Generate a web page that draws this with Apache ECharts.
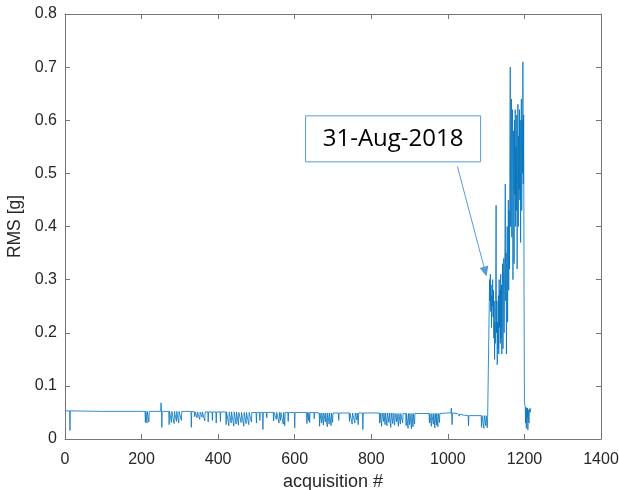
<!DOCTYPE html>
<html>
<head>
<meta charset="utf-8">
<script src="https://cdn.jsdelivr.net/npm/echarts@6/dist/echarts.min.js"></script>
<style>
  html, body { margin: 0; padding: 0; background: #fff; }
  #chart { width: 619px; height: 490px; }
</style>
</head>
<body>
<div id="chart"></div>
<script>
// baseline level anchors: [acquisition #, RMS g]
const baseLevel = [
  [0, 0.053], [100, 0.052], [200, 0.052], [400, 0.051], [600, 0.050],
  [800, 0.049], [1000, 0.049], [1025, 0.048], [1040, 0.045], [1108, 0.044]
];

// drop-outs (and two small spikes): [acquisition #, level around it, value]
const dips = [
  [13, 0.053, 0.016],
  [210, 0.052, 0.031], [214, 0.052, 0.030], [219, 0.052, 0.032],
  [251, 0.052, 0.068], [253, 0.052, 0.022],
  [272, 0.052, 0.027], [278, 0.052, 0.031], [285, 0.052, 0.029], [291, 0.052, 0.033],
  [297, 0.052, 0.030], [304, 0.052, 0.035], [330, 0.052, 0.022], [339, 0.051, 0.042],
  [345, 0.051, 0.040], [352, 0.051, 0.037], [358, 0.051, 0.041], [365, 0.051, 0.034],
  [374, 0.051, 0.032], [385, 0.051, 0.035], [395, 0.051, 0.030], [406, 0.051, 0.033],
  [421, 0.051, 0.027], [428, 0.051, 0.025], [434, 0.051, 0.030], [441, 0.051, 0.024],
  [447, 0.051, 0.028], [453, 0.050, 0.026], [460, 0.050, 0.031], [467, 0.050, 0.024],
  [473, 0.050, 0.029], [480, 0.050, 0.027], [487, 0.050, 0.032], [500, 0.050, 0.030],
  [509, 0.050, 0.035], [517, 0.050, 0.018], [527, 0.050, 0.040], [545, 0.050, 0.034],
  [552, 0.050, 0.037], [559, 0.050, 0.030], [563, 0.050, 0.035], [570, 0.050, 0.028],
  [574, 0.050, 0.025], [583, 0.050, 0.033], [600, 0.050, 0.021], [632, 0.050, 0.029],
  [636, 0.050, 0.035], [639, 0.050, 0.031], [651, 0.050, 0.038], [665, 0.049, 0.024],
  [670, 0.049, 0.030], [675, 0.049, 0.026], [680, 0.049, 0.032], [685, 0.049, 0.023],
  [690, 0.049, 0.028], [695, 0.049, 0.025], [699, 0.049, 0.031], [715, 0.049, 0.035],
  [743, 0.049, 0.033], [750, 0.049, 0.028], [757, 0.049, 0.030], [762, 0.049, 0.036],
  [766, 0.049, 0.027], [778, 0.049, 0.018], [822, 0.049, 0.030], [827, 0.049, 0.024],
  [832, 0.049, 0.033], [836, 0.049, 0.027], [841, 0.049, 0.025], [846, 0.049, 0.031],
  [851, 0.049, 0.022], [856, 0.049, 0.029], [861, 0.048, 0.026], [866, 0.048, 0.032],
  [871, 0.048, 0.024], [876, 0.048, 0.028], [882, 0.048, 0.030], [891, 0.048, 0.025],
  [896, 0.048, 0.020], [900, 0.048, 0.027], [905, 0.048, 0.019], [909, 0.048, 0.023],
  [913, 0.048, 0.028], [952, 0.048, 0.030], [957, 0.048, 0.024], [962, 0.048, 0.028],
  [966, 0.048, 0.021], [970, 0.048, 0.026], [974, 0.048, 0.023], [978, 0.048, 0.031],
  [1009, 0.049, 0.058], [1011, 0.049, 0.027], [1030, 0.047, 0.043], [1054, 0.044, 0.025],
  [1088, 0.044, 0.022], [1094, 0.044, 0.020], [1099, 0.044, 0.025], [1103, 0.044, 0.021]
];

// burst after 31-Aug-2018, one value per acquisition from burstStart
const burstStart = 1109;
const burstValues = [
  0.30, 0.26, 0.31, 0.24, 0.29, 0.21, 0.27, 0.25, 0.30, 0.23,
  0.28, 0.19, 0.26, 0.15, 0.22, 0.18, 0.30, 0.44, 0.20, 0.26,
  0.14, 0.22, 0.17, 0.27, 0.16, 0.30, 0.21, 0.28, 0.18, 0.31,
  0.19, 0.29, 0.16, 0.24, 0.33, 0.17, 0.28, 0.34, 0.20, 0.30,
  0.36, 0.48, 0.26, 0.35, 0.16, 0.30, 0.40, 0.22, 0.33, 0.45,
  0.28, 0.43, 0.32, 0.56, 0.70, 0.40, 0.56, 0.64, 0.38, 0.53,
  0.62, 0.30, 0.46, 0.58, 0.33, 0.60, 0.46, 0.62, 0.40, 0.55,
  0.43, 0.61, 0.32, 0.52, 0.63, 0.40, 0.57, 0.47, 0.62, 0.45,
  0.60, 0.37, 0.58, 0.64, 0.43, 0.60, 0.50, 0.71, 0.48, 0.61,
  0.28, 0.070, 0.065, 0.060, 0.030, 0.060, 0.020, 0.058, 0.040, 0.058,
  0.017, 0.055, 0.056, 0.030, 0.057, 0.055, 0.050, 0.057, 0.056, 0.057
];

// annotation
const noteText = '31-Aug-2018';
const noteCenter = [857, 0.565];
const noteTail = [1025, 0.513];
const noteTip = [1101, 0.306];

const points = baseLevel.slice();
dips.forEach(([x, level, v]) => {
  points.push([x - 1, level], [x, v], [x + 1, level]);
});
burstValues.forEach((v, i) => points.push([burstStart + i, v]));
points.sort((a, b) => a[0] - b[0]);

const axisGray = '#767676';
const textDark = '#262626';
const font = 'Liberation Sans';

const boxAxis = {
  type: 'value',
  axisLine: { show: true, onZero: false, lineStyle: { color: axisGray, width: 1 } },
  axisTick: { show: true, inside: true, length: 5, lineStyle: { color: axisGray } },
  splitLine: { show: false }
};

const chart = echarts.init(document.getElementById('chart'));

chart.setOption({
  animation: false,
  textStyle: { fontFamily: font },
  grid: { left: 65, right: 18, top: 14, bottom: 51, containLabel: false, outerBoundsMode: 'none' },
  xAxis: [
    Object.assign({}, boxAxis, {
      position: 'bottom', min: 0, max: 1400, interval: 200,
      name: 'acquisition #', nameLocation: 'middle', nameGap: 30,
      nameTextStyle: { fontSize: 18, color: textDark, fontFamily: font },
      axisLabel: { fontSize: 16, color: textDark, margin: 13, fontFamily: font,
        formatter: v => String(v) }
    }),
    Object.assign({}, boxAxis, {
      position: 'top', min: 0, max: 1400, interval: 200,
      axisLabel: { show: false }
    })
  ],
  yAxis: [
    Object.assign({}, boxAxis, {
      position: 'left', min: 0, max: 0.8, interval: 0.1,
      name: 'RMS [g]', nameLocation: 'middle', nameGap: 35,
      nameTextStyle: { fontSize: 17.5, color: textDark, fontFamily: font },
      axisLabel: { fontSize: 16, color: textDark, margin: 8, fontFamily: font }
    }),
    Object.assign({}, boxAxis, {
      position: 'right', min: 0, max: 0.8, interval: 0.1,
      axisLabel: { show: false }
    })
  ],
  series: [{
    type: 'line',
    data: points,
    showSymbol: false,
    lineStyle: { color: '#0072BD', width: 0.8 },
    itemStyle: { color: '#0072BD' }
  }]
});

// annotation box + arrow placed through the axes
const finder = { seriesIndex: 0 };
const c = chart.convertToPixel(finder, noteCenter);
const tail = chart.convertToPixel(finder, noteTail);
const tip = chart.convertToPixel(finder, noteTip);
const dx = tip[0] - tail[0], dy = tip[1] - tail[1];
const len = Math.sqrt(dx * dx + dy * dy);
const ux = dx / len, uy = dy / len;
const headLen = 10, headHalf = 4.5;
const bx = tip[0] - ux * headLen, by = tip[1] - uy * headLen;
const noteColor = '#5B9BD5';
const boxW = 175, boxH = 46;

chart.setOption({
  graphic: [
    {
      type: 'rect',
      shape: { x: c[0] - boxW / 2, y: c[1] - boxH / 2, width: boxW, height: boxH },
      style: { fill: '#fff', stroke: noteColor, lineWidth: 1 },
      z: 10
    },
    {
      type: 'text',
      x: c[0], y: c[1],
      style: {
        text: noteText, fill: '#000',
        font: '24px "Open Sans"',
        align: 'center', verticalAlign: 'middle',
        textAlign: 'center', textVerticalAlign: 'middle'
      },
      z: 11
    },
    {
      type: 'line',
      shape: { x1: tail[0], y1: tail[1], x2: bx, y2: by },
      style: { stroke: noteColor, lineWidth: 1 },
      z: 10
    },
    {
      type: 'polygon',
      shape: { points: [tip, [bx - uy * headHalf, by + ux * headHalf], [bx + uy * headHalf, by - ux * headHalf]] },
      style: { fill: noteColor },
      z: 10
    }
  ]
});
</script>
</body>
</html>
